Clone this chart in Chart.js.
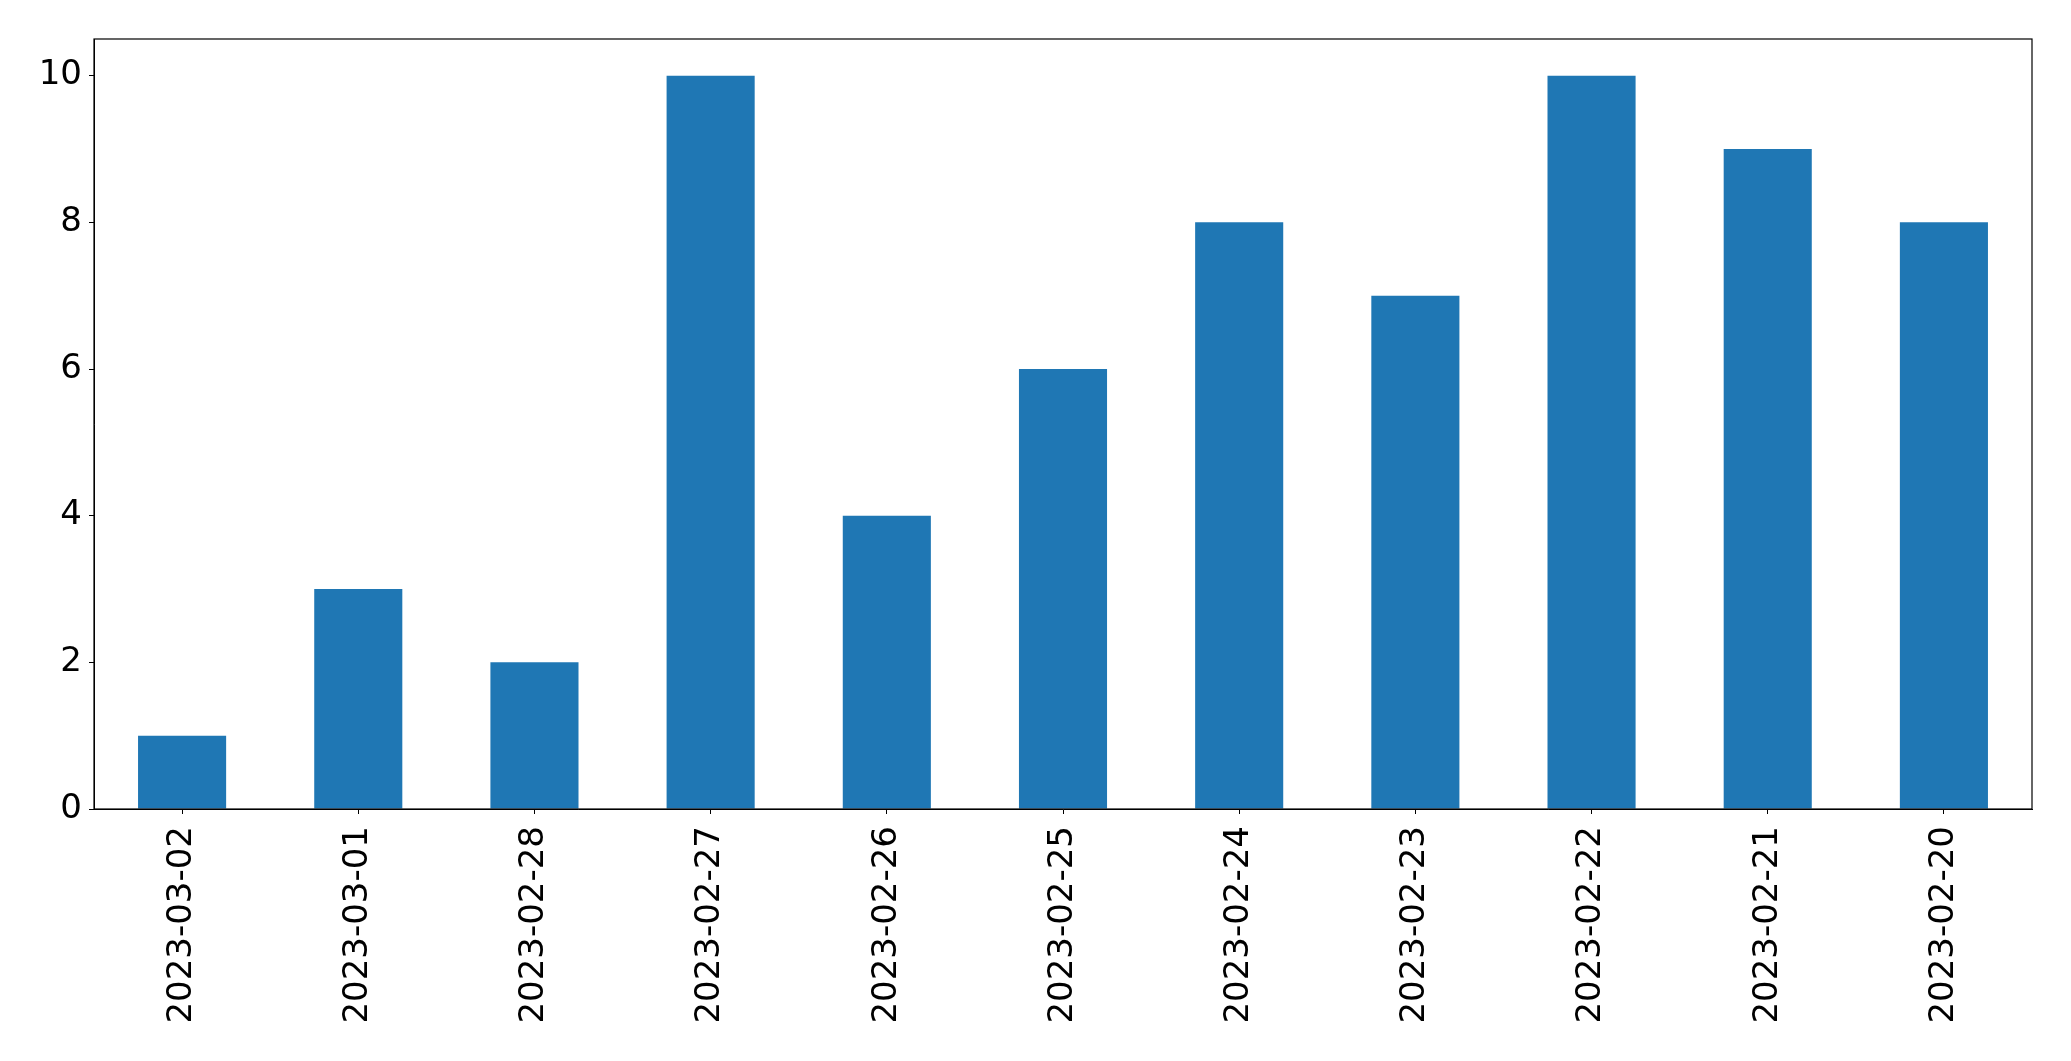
<!DOCTYPE html>
<html>
<head>
<meta charset="utf-8">
<script src="https://cdn.jsdelivr.net/npm/chart.js@4"></script>
<style>
  body { margin: 0; background: #fff; }
  #wrap { width: 2071px; height: 1061px; }
</style>
</head>
<body>
<div id="wrap"><canvas id="chart" width="2071" height="1061"></canvas></div>
<script>
const dates = ['2023-03-02', '2023-03-01', '2023-02-28', '2023-02-27', '2023-02-26', '2023-02-25',
               '2023-02-24', '2023-02-23', '2023-02-22', '2023-02-21', '2023-02-20'];
const counts = [1, 3, 2, 10, 4, 6, 8, 7, 10, 9, 8];
const yTicks = [0, 2, 4, 6, 8, 10];

const tickFont = { family: 'DejaVu Sans', size: 34 };

// matplotlib style box round the plot area
const frame = {
    id: 'frame',
    afterDraw(chart) {
        let a = chart.chartArea;
        let ctx = chart.ctx;
        ctx.save();
        ctx.strokeStyle = '#000';
        ctx.lineWidth = 1.2;
        ctx.strokeRect(a.left, a.top, a.right - a.left, a.bottom - a.top);
        ctx.restore();
    }
};

new Chart(document.getElementById('chart'), {
    type: 'bar',
    data: {
        labels: dates,
        datasets: [{
            data: counts,
            backgroundColor: '#1f77b4',
            borderWidth: 0,
            categoryPercentage: 1,
            barPercentage: 0.5
        }]
    },
    options: {
        responsive: false,
        animation: false,
        layout: { padding: { top: 39, right: 39, left: 0, bottom: 0 } },
        plugins: { legend: { display: false }, tooltip: { enabled: false } },
        scales: {
            x: {
                offset: true,
                grid: { display: true, offset: false, drawOnChartArea: false, drawTicks: true, tickLength: 5, color: '#000', lineWidth: 1 },
                border: { display: true, color: '#000', width: 1 },
                ticks: { color: '#000', font: tickFont, minRotation: 90, maxRotation: 90, padding: 12, autoSkip: false },
                afterFit: (scale) => { scale.height = 252; }
            },
            y: {
                min: 0,
                max: 10.5,
                grid: { display: true, drawOnChartArea: false, drawTicks: true, tickLength: 5, color: '#000', lineWidth: 1 },
                border: { display: true, color: '#000', width: 1 },
                ticks: { color: '#000', font: tickFont, stepSize: 2, includeBounds: false, padding: 7 },
                afterBuildTicks: (scale) => { scale.ticks = yTicks.map(v => ({ value: v })); },
                afterFit: (scale) => { scale.width = 94; }
            }
        }
    },
    plugins: [frame]
});
</script>
</body>
</html>
